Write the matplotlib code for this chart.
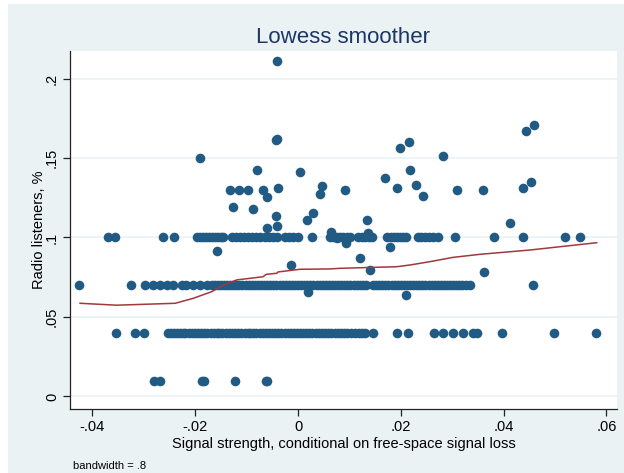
import matplotlib
matplotlib.use('Agg')
import matplotlib.pyplot as plt
from matplotlib.patches import Rectangle

plt.rcParams['font.family'] = ['Liberation Sans', 'DejaVu Sans']

# listeners share sits on a few discrete levels -> one x list per level
x_row01 = [-0.0280, -0.0269, -0.0186, -0.0182, -0.0123, -0.0063, -0.0060]

x_row04 = [-0.0355, -0.0318, -0.0300,
           -0.0253, -0.0247, -0.0241, -0.0236, -0.0230, -0.0224, -0.0219, -0.0213,
           -0.0206, -0.0200, -0.0194, -0.0189, -0.0183, -0.0177, -0.0170, -0.0164,
           -0.0158, -0.0153, -0.0147, -0.0141, -0.0134, -0.0128, -0.0122, -0.0116,
           -0.0110, -0.0104, -0.0098, -0.0093, -0.0087, -0.0081, -0.0074, -0.0068,
           -0.0062, -0.0056, -0.0050, -0.0045, -0.0039, -0.0033, -0.0026, -0.0020,
           -0.0014, -0.0008, -0.0002, 0.0004, 0.0010, 0.0016, 0.0022, 0.0028,
           0.0035, 0.0041, 0.0046, 0.0052, 0.0058, 0.0064, 0.0071, 0.0077, 0.0083,
           0.0090, 0.0096, 0.0104, 0.0111, 0.0118, 0.0125, 0.0131,
           0.0146, 0.0193, 0.0214, 0.0265, 0.0282, 0.0301, 0.0321, 0.0340, 0.0348,
           0.0397, 0.0498, 0.0580]

x_row07 = [-0.0426, -0.0325, -0.0298, -0.0282, -0.0268, -0.0255, -0.0243,
           -0.0226, -0.0217, -0.0204, -0.0191, -0.0178,
           -0.0168, -0.0162, -0.0156, -0.0150, -0.0144, -0.0138, -0.0132, -0.0126,
           -0.0120, -0.0114, -0.0108, -0.0102, -0.0096, -0.0090, -0.0084, -0.0078,
           -0.0072, -0.0066, -0.0060, -0.0054, -0.0048, -0.0042, -0.0036, -0.0030,
           -0.0024, -0.0018, -0.0012, -0.0006, 0.0000, 0.0006, 0.0012, 0.0018,
           0.0024, 0.0030, 0.0036, 0.0042, 0.0048, 0.0054, 0.0060, 0.0066, 0.0072,
           0.0078, 0.0084, 0.0090, 0.0096, 0.0102, 0.0108, 0.0114, 0.0120, 0.0126,
           0.0132, 0.0146, 0.0152, 0.0158, 0.0164, 0.0170, 0.0176, 0.0182, 0.0188,
           0.0194, 0.0200, 0.0206, 0.0212, 0.0218, 0.0224, 0.0230, 0.0236, 0.0242,
           0.0248, 0.0254, 0.0260, 0.0266, 0.0272, 0.0278, 0.0284, 0.0290, 0.0296,
           0.0302, 0.0308, 0.0314, 0.0320, 0.0327, 0.0335, 0.0457]

x_row10 = [-0.0370, -0.0357, -0.0262, -0.0241,
           -0.0197, -0.0191, -0.0185, -0.0179, -0.0173, -0.0167, -0.0161, -0.0155,
           -0.0149, -0.0146,
           -0.0129, -0.0121, -0.0113, -0.0105, -0.0097, -0.0089, -0.0081, -0.0073,
           -0.0065, -0.0057, -0.0049, -0.0041,
           -0.0025, -0.0018, -0.0009, 0.0000, 0.0028,
           0.0062, 0.0068, 0.0075, 0.0082, 0.0088, 0.0095, 0.0101,
           0.0117, 0.0124, 0.0131, 0.0138, 0.0144,
           0.0173, 0.0180, 0.0187, 0.0193, 0.0199, 0.0205, 0.0211,
           0.0233, 0.0240, 0.0247, 0.0255, 0.0263, 0.0272,
           0.0306, 0.0381, 0.0438, 0.0519, 0.0549]

# points off the main levels
x_other = [-0.0041, -0.0042, -0.0041, -0.0191, -0.0080, 0.0004,
           -0.0132, -0.0115, -0.0098, -0.0068, -0.0038, -0.0060, 0.0046, 0.0043,
           -0.0126, -0.0088, -0.0042, 0.0017, 0.0030, -0.0041, -0.0061, 0.0064, 0.0075,
           0.0091, 0.0170, 0.0193, 0.0199, 0.0215, 0.0217, 0.0229, 0.0244, 0.0283,
           0.0310, 0.0359, 0.0412, 0.0437, 0.0453, 0.0444, 0.0460, 0.0134, 0.0136,
           0.0093, 0.0178, 0.0120, 0.0141, 0.0361, 0.0210,
           -0.0157, -0.0013, 0.0019]
y_other = [0.2110, 0.1611, 0.1620, 0.1500, 0.1423, 0.1410,
           0.1301, 0.1301, 0.1301, 0.1301, 0.1311, 0.1255, 0.1324, 0.1272,
           0.1194, 0.1181, 0.1133, 0.1110, 0.1152, 0.1074, 0.1062, 0.1035, 0.0995,
           0.1301, 0.1374, 0.1313, 0.1563, 0.1601, 0.1423, 0.1332, 0.1263, 0.1511,
           0.1301, 0.1301, 0.1093, 0.1311, 0.1351, 0.1670, 0.1709, 0.1112, 0.1026,
           0.0963, 0.0942, 0.0874, 0.0795, 0.0784, 0.0635,
           0.0915, 0.0827, 0.0660]

# lowess fit
lowess_x = [-0.0424, -0.0353, -0.0239, -0.0204, -0.0168, -0.0145, -0.0119, -0.0068,
            -0.0062, -0.0041, -0.0039, 0.0004, 0.0062, 0.0082, 0.0192, 0.0218,
            0.0257, 0.0302, 0.0354, 0.0451, 0.0581]
lowess_y = [0.0586, 0.0574, 0.0586, 0.0617, 0.0659, 0.0701, 0.0733, 0.0753,
            0.0768, 0.0775, 0.0783, 0.0800, 0.0802, 0.0806, 0.0816, 0.0827,
            0.0848, 0.0875, 0.0894, 0.0921, 0.0967]

xticks = [-0.04, -0.02, 0, 0.02, 0.04, 0.06]
xticklabels = ['-.04', '-.02', '0', '.02', '.04', '.06']
yticks = [0, 0.05, 0.1, 0.15, 0.2]
yticklabels = ['0', '.05', '.1', '.15', '.2']

bg = '#EAF2F3'
navy = '#215A82'
maroon = '#A0383C'

fig = plt.figure(figsize=(6.24, 4.73), dpi=100, facecolor=bg)
# white margins left over from the page crop
fig.add_artist(Rectangle((0, 1 - 4 / 473), 1, 4 / 473, transform=fig.transFigure,
                         facecolor='white', edgecolor='none', zorder=-1))
fig.add_artist(Rectangle((0, 0), 8 / 624, 1, transform=fig.transFigure,
                         facecolor='white', edgecolor='none', zorder=-1))

ax = fig.add_axes([70 / 624, 64 / 473, 547 / 624, 358 / 473])
ax.set_facecolor('white')

all_x = x_row01 + x_row04 + x_row07 + x_row10 + x_other
all_y = ([0.01] * len(x_row01) + [0.04] * len(x_row04) + [0.07] * len(x_row07)
         + [0.10] * len(x_row10) + y_other)
ax.scatter(all_x, all_y, s=48, color=navy, linewidths=0, zorder=3)
ax.plot(lowess_x, lowess_y, color=maroon, lw=1.1, zorder=4)

ax.set_xlim(-0.04436, 0.06206)
ax.set_ylim(-0.0079, 0.2173)
ax.set_xticks(xticks)
ax.set_xticklabels(xticklabels)
ax.set_yticks(yticks)
ax.set_yticklabels(yticklabels, rotation=90, va='center')
ax.grid(axis='y', color=bg, lw=1.2, zorder=0)
ax.set_axisbelow(True)

for side in ['top', 'right']:
    ax.spines[side].set_visible(False)
for side in ['left', 'bottom']:
    ax.spines[side].set_color('#222222')
    ax.spines[side].set_linewidth(0.9)
ax.tick_params(direction='out', length=5, width=0.9, color='#222222',
               labelsize=10.5, labelcolor='black', pad=3)

ax.set_xlabel('Signal strength, conditional on free-space signal loss', fontsize=10.5, labelpad=2)
ax.set_ylabel('Radio listeners, %', fontsize=10.5, labelpad=-1)
ax.set_title('Lowess smoother', fontsize=16, color='#1C3766', pad=6)

fig.text(73 / 624, 1 - 466 / 473, 'bandwidth = .8', fontsize=8, ha='left', va='center')

fig.savefig('out.png', dpi=100, facecolor=bg)
